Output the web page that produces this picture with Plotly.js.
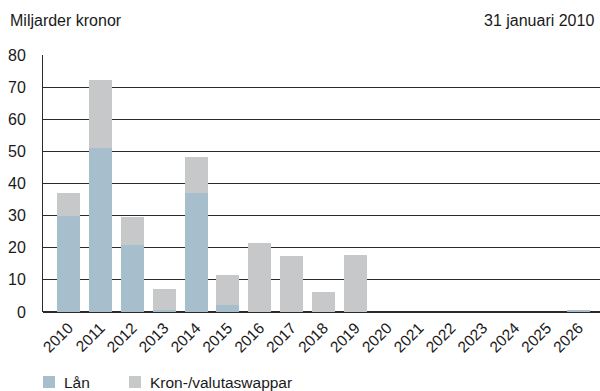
<!DOCTYPE html>
<html>
<head>
<meta charset="utf-8">
<script src="https://cdn.plot.ly/plotly-3.0.1.min.js"></script>
<style>
  html, body { margin: 0; padding: 0; background: #fff; }
  #chart { width: 600px; height: 391px; }
</style>
</head>
<body>
<div id="chart"></div>
<script>
// Förfallostruktur, miljarder kronor
const years = ['2010','2011','2012','2013','2014','2015','2016','2017','2018',
               '2019','2020','2021','2022','2023','2024','2025','2026'];
const lan   = [30, 51, 21, 0.6, 37, 2.2, 0, 0, 0, 0, 0, 0, 0, 0, 0, 0, 0.6];
const swap  = [7, 21.3, 8.7, 6.6, 11.2, 9.3, 21.6, 17.4, 6.2, 17.8, 0, 0, 0, 0, 0, 0, 0];
const seriesNames = ['Lån', 'Kron-/valutaswappar'];
const seriesColors = ['#a7bfcc', '#c7c8ca'];
const yTicks = [0, 10, 20, 30, 40, 50, 60, 70, 80];

// plot area in pixels
const W = 600, H = 391;
const L = 43, R = 600, T = 55, B = 312;
const px = x => (x - L) / (R - L);
const py = y => (B - y) / (B - T);

const FONT = 'Liberation Sans, Arial, Helvetica, sans-serif';
const INK = '#1a1a1a';

const traces = [
  { type: 'bar', x: years, y: lan, name: seriesNames[0],
    marker: { color: seriesColors[0], line: { width: 0 } }, width: 0.72, hoverinfo: 'x+y+name' },
  { type: 'bar', x: years, y: swap, name: seriesNames[1],
    marker: { color: seriesColors[1], line: { width: 0 } }, width: 0.72, hoverinfo: 'x+y+name' }
];

// hand-placed legend entries
const legendShapes = [], legendNotes = [];
const legendX = [43, 129];
seriesNames.forEach((nm, i) => {
  legendShapes.push({ type: 'rect', xref: 'paper', yref: 'paper',
    x0: px(legendX[i]), x1: px(legendX[i] + 12), y0: py(388), y1: py(376),
    fillcolor: seriesColors[i], line: { width: 0 } });
  legendNotes.push({ xref: 'paper', yref: 'paper', x: px(legendX[i] + 19), y: py(382),
    xanchor: 'left', yanchor: 'middle', showarrow: false, text: nm,
    font: { family: FONT, size: 15.5, color: INK } });
});

const layout = {
  width: W, height: H,
  margin: { l: L, r: W - R, t: T, b: H - B, pad: 0 },
  paper_bgcolor: '#fff', plot_bgcolor: '#fff',
  barmode: 'stack',
  showlegend: false,
  font: { family: FONT, color: INK },
  xaxis: {
    type: 'category', range: [-0.8, 16.67],
    showgrid: false, zeroline: false,
    showline: false, ticks: '',
    tickangle: -45, tickfont: { family: FONT, size: 15.5, color: INK },
    ticklabelstandoff: 3, fixedrange: true
  },
  yaxis: {
    range: [0, 80], tickvals: yTicks, ticktext: yTicks.map(String),
    showgrid: true, gridcolor: '#2a2a2a', gridwidth: 1,
    zeroline: true, zerolinecolor: '#2a2a2a', zerolinewidth: 1.5,
    showline: true, linecolor: '#2a2a2a', linewidth: 1,
    ticks: '', ticklabelstandoff: 13,
    tickfont: { family: FONT, size: 16, color: INK }, fixedrange: true
  },
  shapes: legendShapes,
  annotations: [
    { xref: 'paper', yref: 'paper', x: px(8), y: py(20), xanchor: 'left', yanchor: 'middle',
      showarrow: false, text: 'Miljarder kronor', font: { family: FONT, size: 16, color: INK } },
    { xref: 'paper', yref: 'paper', x: px(596), y: py(20), xanchor: 'right', yanchor: 'middle',
      showarrow: false, text: '31 januari 2010', font: { family: FONT, size: 16, color: INK } }
  ].concat(legendNotes)
};

Plotly.newPlot('chart', traces, layout, { displayModeBar: false, staticPlot: true });
</script>
</body>
</html>
